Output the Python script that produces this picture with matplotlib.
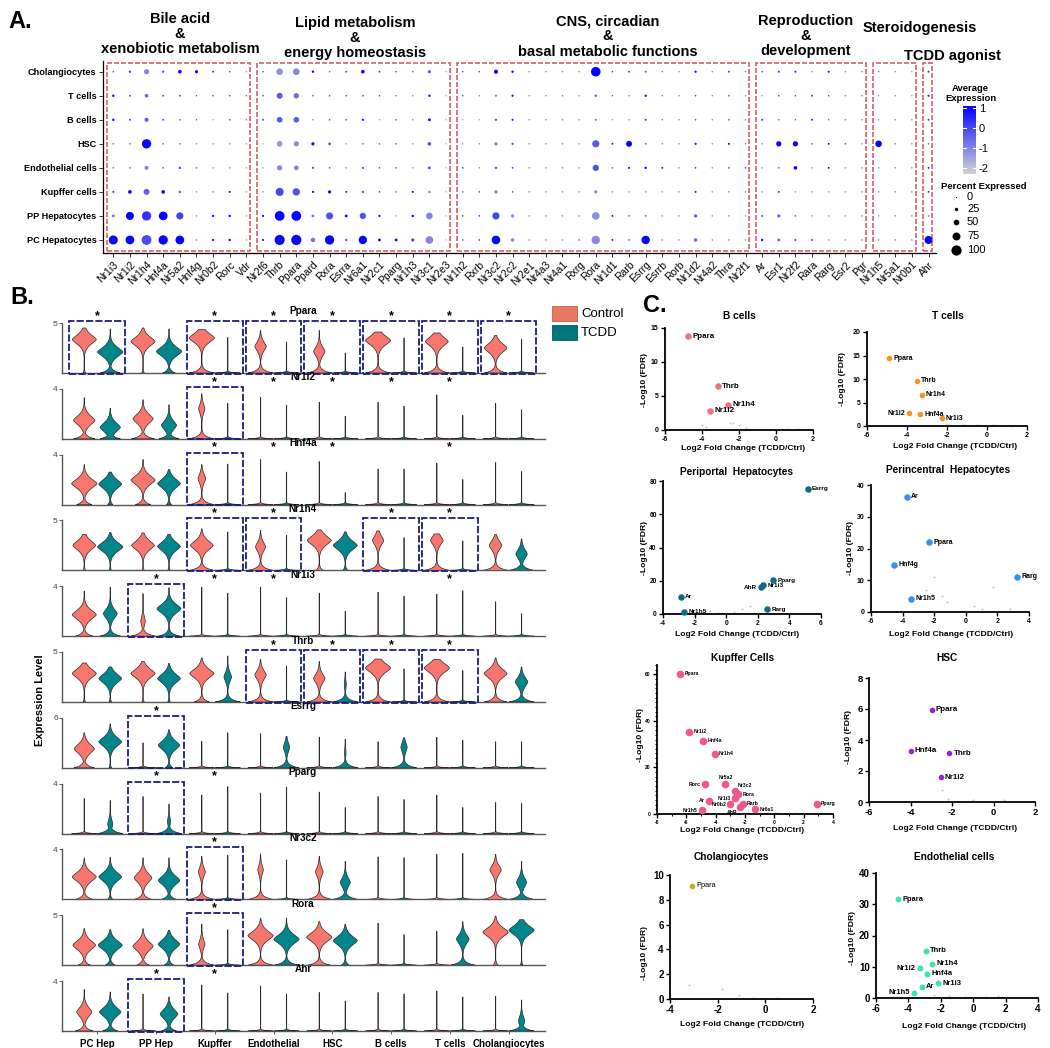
import numpy as np
import matplotlib
matplotlib.use('Agg')
import matplotlib.pyplot as plt
from matplotlib.patches import Rectangle
from matplotlib.colors import LinearSegmentedColormap
from matplotlib.ticker import MultipleLocator

plt.rcParams['font.family'] = ['Liberation Sans', 'DejaVu Sans']
plt.rcParams['axes.unicode_minus'] = False

# ---------------- Panel A data ----------------
A_GENES = ['Nr1i3', 'Nr1i2', 'Nr1h4', 'Hnf4a', 'Nr5a2', 'Hnf4g', 'Nr0b2', 'Rorc', 'Vdr',
           'Nr2f6', 'Thrb', 'Ppara', 'Ppard', 'Rxra', 'Esrra', 'Nr6a1', 'Nr2c1', 'Pparg', 'Nr1h3', 'Nr3c1', 'Nr2e3',
           'Nr1h2', 'Rxrb', 'Nr3c2', 'Nr2c2', 'Nr2e1', 'Nr4a3', 'Nr4a1', 'Rxrg', 'Rora', 'Nr1d1', 'Rarb', 'Esrrg',
           'Esrrb', 'Rorb', 'Nr1d2', 'Nr4a2', 'Thra', 'Nr2f1',
           'Ar', 'Esr1', 'Nr2f2', 'Rara', 'Rarg', 'Esr2', 'Pgr',
           'Nr1h5', 'Nr5a1', 'Nr0b1', 'Ahr']
A_CELLS = ['PC Hepatocytes', 'PP Hepatocytes', 'Kupffer cells', 'Endothelial cells',
           'HSC', 'B cells', 'T cells', 'Cholangiocytes']
A_GROUP_TITLES = ['Bile acid\n&\nxenobiotic metabolism', 'Lipid metabolism\n&\nenergy homeostasis',
                  'CNS, circadian\n&\nbasal metabolic functions', 'Reproduction\n&\ndevelopment',
                  'Steroidogenesis', 'TCDD agonist']
A_GROUP_FIRST = [0, 9, 21, 39, 46, 49]
A_GROUP_LAST = [8, 20, 38, 45, 48, 49]

PCT_CHOL = [4,13,45,11,27,22,7,4,2, 4,60,60,13,4,7,27,7,4,4,22,2, 4,4,32,13,2,2,2,2,93,4,7,7,2,2,11,2,7,2, 4,9,9,2,9,2,2, 2,2,2, 9]
EXP_CHOL = [0,0,-1,0,1,1,0.5,0,-1, 0,-1.2,-1,1,-0.5,0,1,0.3,0,-0.5,-0.3,-1.5, 0,0,1,1,-0.5,-0.5,-0.5,-0.5,1,0,0.3,0,-0.5,-0.5,1,-0.5,0.5,-0.5, 0,0.3,0.3,-0.5,1,-0.5,-0.5, -0.5,-0.5,-1, 0.3]
PCT_T = [13,7,27,7,7,2,4,4,2, 4,53,45,4,4,4,7,4,2,2,13,2, 4,2,9,11,2,2,2,2,13,2,2,12,2,2,4,2,4,2, 2,4,4,7,4,2,2, 2,2,2, 9]
EXP_T = [1,0,-0.5,0,0,0,0,0,-0.5, 0.3,-0.3,-0.6,0,0,0,-0.3,0,0,-0.5,1,-1.5, 0,-0.5,-0.8,1,-0.5,-0.5,-0.3,-0.5,-0.3,0,-0.3,1,-0.5,-0.5,0,-0.5,0,-0.5, -1,0.3,0,0.5,0,-0.5,-0.5, -0.5,-0.5,-1, 1]
PCT_B = [13,7,32,7,4,2,1,4,2, 7,50,50,2,4,4,11,1,4,2,18,2, 1,1,11,9,2,2,2,2,9,1,2,7,2,2,4,2,4,2, 7,2,2,7,2,2,2, 2,2,2, 7]
EXP_B = [1,0.3,-0.4,0,0,0,-1,0,-0.5, 0.3,-0.3,-0.4,-0.5,0,0,1,-1,0,-0.5,1,-1.5, -1,-1,-0.2,1,-0.5,-0.5,-0.5,-0.5,-0.6,-1,-0.5,0.5,-0.5,-0.5,0,-0.5,0,-0.5, 0.5,0,0,1,0,-0.5,-0.5, -0.5,-0.5,-0.5, 0.5]
PCT_HSC = [4,4,90,4,4,2,2,2,2, 2,50,45,22,18,2,7,4,4,2,27,2, 2,2,22,11,2,2,2,2,66,7,53,4,2,2,11,2,9,2, 2,45,45,4,7,4,2, 60,2,2, 4]
EXP_HSC = [-0.5,-0.5,1,-0.3,-0.5,-0.5,-0.5,-0.5,-1, -1.5,-1.3,-1.1,1,-0.3,-1,-1,-0.3,-0.3,-0.5,-0.2,-1.5, -0.5,-0.5,-0.8,-0.1,-0.5,-0.5,-0.5,-0.5,-0.3,1,1,0,-0.5,-0.5,1,-0.5,1,0, -0.5,1,1,0,1,0,-0.5, 1,-0.5,-0.5, 0]
PCT_ENDO = [4,4,32,4,13,4,2,2,2, 2,45,40,9,4,2,11,4,4,2,18,2, 4,2,13,7,2,2,2,2,56,4,9,13,7,2,4,2,4,4, 2,4,27,2,7,2,2, 2,2,2, 7]
EXP_ENDO = [-0.3,-0.3,-1,0,-0.1,-0.3,-0.5,-0.5,-1, -1,-1.1,-1,0.5,0,-0.5,0,0,0,-0.5,-0.2,-1.5, 0,-0.5,-0.2,0,-0.5,-0.5,-0.5,-0.5,-0.2,0,1,1,1,-0.5,0.3,-0.5,0.3,0.3, -0.5,0,1,-0.5,1,-0.5,-0.5, -0.5,-0.5,-0.5, 1]
PCT_KUP = [9,27,53,27,13,2,4,9,2, 2,76,68,11,22,7,13,4,4,9,13,2, 4,4,22,4,2,2,2,2,22,2,2,2,2,2,7,2,2,2, 2,7,2,2,2,2,2, 2,2,2, 7]
EXP_KUP = [0.5,1,-0.5,1,-0.2,-0.5,-0.5,1,-1, -0.8,0,-0.2,1,1,1,-0.2,0.5,-0.3,1,-1,-1.5, 0,0.3,-0.8,0,-0.5,-0.5,-0.5,-0.5,-1,-0.5,-0.5,-0.5,-0.5,-0.5,1,-0.5,-0.5,-0.5, -0.5,0.5,-0.5,-0.5,-0.5,-0.5,-0.5, -0.5,-0.5,-0.5, 0.5]
PCT_PP = [18,76,90,84,66,2,11,13,2, 11,95,96,18,66,18,56,11,4,13,60,2, 4,4,66,22,2,2,2,2,72,7,4,4,2,2,22,2,2,2, 7,22,4,2,2,2,2, 2,2,2, 7]
EXP_PP = [-0.8,1,0.3,1,0,-0.5,1,1,-1, 1,1,1,-0.8,-0.2,1,-0.2,1,-1.5,1,-1,-1.5, 0.3,0.5,0,-1,-0.5,-0.5,-0.5,0,-1.2,1,0,0,-0.5,-0.5,-0.3,-0.5,-0.5,-1, 0,-0.5,0,-0.5,-0.5,-0.5,-0.5, -0.5,-0.5,-0.5, -1]
PCT_PC = [87,84,96,90,84,2,11,13,2, 9,99,100,36,90,13,80,18,18,22,72,2, 4,4,82,25,2,2,2,4,80,7,4,80,2,2,25,2,2,2, 13,18,11,9,2,2,2, 2,2,2, 76]
EXP_PC = [1,1,-0.1,1,1,-0.5,1,1,-1, 1,1,1,-0.7,1,-0.3,1,1,1,0,-1,-1.5, 0.3,0.5,1,-1,-0.5,-0.5,-0.5,0,-1.1,1,0,1,-0.5,-0.5,-0.5,-0.5,-0.5,-0.5, 1,-0.5,-0.3,-0.2,-0.5,-0.5,-0.5, -0.5,-0.5,-0.5, 1]

A_PCT = [PCT_PC, PCT_PP, PCT_KUP, PCT_ENDO, PCT_HSC, PCT_B, PCT_T, PCT_CHOL]
A_EXP = [EXP_PC, EXP_PP, EXP_KUP, EXP_ENDO, EXP_HSC, EXP_B, EXP_T, EXP_CHOL]
CB_TICKS = [1, 0, -1, -2]
PCT_LEGEND = [0, 25, 50, 75, 100]

# ---------------- Panel B data ----------------
B_GENES = ['Ppara', 'Nr1i2', 'Hnf4a', 'Nr1h4', 'Nr1i3', 'Thrb', 'Esrrg', 'Pparg', 'Nr3c2', 'Rora', 'Ahr']
B_YMAX = [5, 4, 4, 5, 4, 5, 6, 4, 4, 5, 4]
B_CELLS = ['PC Hep', 'PP Hep', 'Kupffer', 'Endothelial', 'HSC', 'B cells', 'T cells', 'Cholangiocytes']
# each violin: (mode height, mode width, top, foot width); width 0 -> collapsed violin (line)
VLN_PPARA = [(0.67,0.95,0.90,0.10),(0.42,1.00,0.88,0.80),(0.63,0.95,0.90,0.10),(0.43,1.00,0.88,0.50),
             (0.70,1.00,0.87,1.00),(0,0,0.71,1),(0.53,0.45,0.85,1.00),(0,0,0.62,1),
             (0.43,0.45,0.85,1.00),(0,0,0.40,1),(0.65,1.00,0.82,1.00),(0,0,0.70,1),
             (0.63,0.90,0.80,1.00),(0,0,0.52,1),(0.50,0.90,0.75,0.90),(0,0,0.67,1)]
VLN_NR1I2 = [(0.37,0.85,0.82,0.85),(0.23,0.80,0.61,0.80),(0.40,0.80,0.78,0.90),(0.27,0.60,0.68,0.80),
             (0.60,0.25,0.90,1.00),(0,0,0.71,1),(0,0,0.83,1),(0,0,0.67,1),
             (0,0,0.73,1),(0,0,0.45,1),(0,0,0.73,1),(0,0,0.65,1),
             (0,0,0.88,1),(0,0,0.47,1),(0,0,0.71,1),(0,0,0.58,1)]
VLN_HNF4A = [(0.42,1.00,0.80,0.60),(0.41,0.90,0.65,0.20),(0.49,0.95,0.90,0.60),(0.42,0.90,0.70,0.20),
             (0.52,0.30,0.80,1.00),(0,0,0.81,1),(0,0,0.90,1),(0,0,0.65,1),
             (0,0,0.86,1),(0,0,0.24,1),(0,0,0.71,1),(0,0,0.71,1),
             (0,0,0.83,1),(0,0,0.50,1),(0,0,0.84,1),(0,0,0.66,1)]
VLN_NR1H4 = [(0.50,0.90,0.72,0.10),(0.47,1.00,0.76,0.10),(0.50,0.90,0.75,0.10),(0.48,0.90,0.72,0.10),
             (0.50,0.90,0.83,1.00),(0,0,0.77,1),(0.47,0.40,0.80,1.00),(0,0,0.70,1),
             (0.60,0.95,0.81,0.30),(0.50,0.95,0.77,0.20),(0.60,0.45,0.79,1.00),(0,0,0.65,1),
             (0.60,0.50,0.73,1.00),(0,0,0.59,1),(0.50,0.50,0.72,1.00),(0.33,0.45,0.63,1.00)]
VLN_NR1I3 = [(0.43,0.95,0.90,0.70),(0.45,0.55,0.98,0.85),(0.30,0.18,0.85,1.00),(0.55,0.95,0.97,0.85),
             (0,0,0.98,1),(0,0,0.86,1),(0,0,0.98,1),(0,0,0.77,1),
             (0,0,0.86,1),(0,0,0.50,1),(0,0,0.88,1),(0,0,0.80,1),
             (0,0,0.84,1),(0,0,0.91,1),(0,0,0.69,1),(0,0,0.45,1)]
VLN_THRB = [(0.57,0.95,0.78,0.10),(0.47,0.90,0.70,0.10),(0.57,0.95,0.81,0.10),(0.47,0.90,0.77,0.10),
            (0.57,0.95,0.88,0.60),(0.50,0.30,0.92,1.00),(0.54,0.45,0.85,1.00),(0,0,0.72,1),
            (0.47,0.45,0.81,1.00),(0.35,0.08,0.60,1.00),(0.68,1.00,0.86,1.00),(0,0,0.66,1),
            (0.68,1.00,0.85,1.00),(0,0,0.63,1),(0.57,0.90,0.88,0.90),(0.40,0.50,0.70,1.00)]
VLN_ESRRG = [(0.38,0.80,0.70,0.80),(0.52,0.90,0.88,0.10),(0,0,0.50,1),(0.45,0.85,0.76,0.30),
             (0,0,0.53,1),(0,0,0.70,1),(0,0,0.68,1),(0.41,0.25,0.63,1.00),
             (0,0,0.61,1),(0.30,0.06,0.57,1.00),(0,0,0.52,1),(0.41,0.25,0.60,1.00),
             (0,0,0.61,1),(0,0,0.55,1),(0,0,0.52,1),(0,0,0.52,1)]
VLN_PPARG = [(0,0,0.70,1),(0.19,0.20,0.66,1.00),(0,0,0.74,1),(0.24,0.12,0.59,1.00),
             (0,0,0.77,1),(0,0,0.94,1),(0,0,0.81,1),(0,0,0.93,1),
             (0,0,0.83,1),(0,0,0.52,1),(0,0,0.74,1),(0,0,0.68,1),
             (0,0,0.77,1),(0,0,0.52,1),(0,0,0.62,1),(0,0,0.60,1)]
VLN_NR3C2 = [(0.45,0.95,0.83,0.70),(0.45,0.90,0.84,0.20),(0.43,0.70,0.83,0.70),(0.38,0.85,0.83,0.60),
             (0.55,0.28,0.86,1.00),(0,0,0.88,1),(0.59,0.22,0.91,1.00),(0,0,0.79,1),
             (0.55,0.30,0.86,1.00),(0.34,0.40,0.76,1.00),(0,0,0.85,1),(0,0,0.83,1),
             (0,0,0.90,1),(0,0,0.92,1),(0.59,0.45,0.90,1.00),(0.34,0.40,0.76,1.00)]
VLN_RORA = [(0.40,0.90,0.73,0.50),(0.40,0.95,0.71,0.40),(0.38,0.80,0.73,0.50),(0.42,0.85,0.70,0.40),
            (0.42,0.25,0.82,1.00),(0,0,0.71,1),(0.59,1.00,0.94,1.00),(0.52,1.00,0.94,1.00),
            (0.56,1.00,0.87,0.90),(0.49,0.95,0.82,0.30),(0,0,0.84,1),(0,0,0.61,1),
            (0,0,0.68,1),(0.52,0.50,0.87,1.00),(0.66,1.00,0.98,0.20),(0.70,1.00,0.91,0.10)]
VLN_AHR = [(0.38,0.60,0.83,0.70),(0.38,0.85,0.78,0.60),(0,0,0.74,1),(0.34,0.70,0.68,0.60),
           (0,0,0.92,1),(0,0,0.76,1),(0,0,0.90,1),(0,0,0.74,1),
           (0,0,0.77,1),(0,0,0.60,1),(0,0,0.77,1),(0,0,0.74,1),
           (0,0,0.80,1),(0,0,0.68,1),(0,0,0.69,1),(0.20,0.25,0.62,1.00)]
B_VIOLINS = [VLN_PPARA, VLN_NR1I2, VLN_HNF4A, VLN_NR1H4, VLN_NR1I3, VLN_THRB,
             VLN_ESRRG, VLN_PPARG, VLN_NR3C2, VLN_RORA, VLN_AHR]
B_BOXES = [[0,2,3,4,5,6,7],[2],[2],[2,3,5,6],[1],[3,4,5,6],[1],[1],[2],[2],[1]]
B_STARS = [[0,2,3,4,5,6,7],[2,3,4,5,6],[2,3,4,6],[2,3,5,6],[1,2,3,6],[3,4,5,6],[1],[1,2],[2],[2],[1,2]]

# ---------------- Panel C data ----------------
BC_GENES = ['Ppara', 'Thrb', 'Nr1h4', 'Nr1i2']
BC_X = [-4.76, -3.14, -2.6, -3.57]
BC_Y = [13.8, 6.4, 3.7, 2.85]
BC_NSX = [-4.0, -3.8, -2.5, -2.3, -2.0, -1.6, 0.6, 1.2]
BC_NSY = [0.7, 0.4, 1.1, 1.0, 0.8, 0.3, 0.2, 0.1]
TC_GENES = ['Ppara', 'Thrb', 'Nr1h4', 'Nr1i2', 'Hnf4a', 'Nr1i3']
TC_X = [-4.9, -3.5, -3.27, -3.9, -3.35, -2.27]
TC_Y = [14.4, 9.6, 6.7, 2.7, 2.55, 1.7]
TC_NSX = [-2.0, -1.2, -0.5, 0.3, 1.2]
TC_NSY = [0.4, 0.2, 0.3, 0.2, 0.1]
PP_GENES = ['Esrrg', 'Pparg', 'Nr1i3', 'AhR', 'Ar', 'Nr1h5', 'Rarg']
PP_X = [5.16, 2.98, 2.35, 2.2, -2.86, -2.65, 2.6]
PP_Y = [75.4, 20.4, 17.4, 16.0, 10.4, 1.4, 2.8]
PP_NSX = [-2.0, -1.5, -1.0, -0.5, 0.5, 1.0, 1.5]
PP_NSY = [0.8, 1.0, 2.0, 0.5, 1.5, 3.0, 5.0]
PC_GENES = ['Ar', 'Ppara', 'Hnf4g', 'Nr1h5', 'Rarg']
PC_X = [-3.73, -2.31, -4.52, -3.47, 3.26]
PC_Y = [36.3, 21.9, 14.95, 4.2, 11.05]
PC_NSX = [-2.5, -2.0, -1.5, -1.2, 0.5, 1.0, 1.7, 2.8]
PC_NSY = [7.0, 11.0, 5.0, 3.0, 2.0, 1.0, 8.0, 1.0]
KC_GENES = ['Ppara', 'Nr1i2', 'Hnf4a', 'Nr1h4', 'Rorc', 'Nr5a2', 'Nr3c2', 'Rora', 'Nr1i3', 'Ar',
            'Nr0b2', 'Rarb', 'AhR', 'Nr1h5', 'Nr6a1', 'Pparg']
KC_X = [-6.41, -5.82, -4.86, -4.07, -4.75, -3.34, -2.71, -2.48, -2.66, -4.48, -3.0, -2.14, -2.32, -4.93, -1.3, 2.9]
KC_Y = [60.2, 35.4, 31.4, 25.8, 12.8, 12.8, 9.9, 8.5, 6.8, 5.7, 4.2, 4.4, 3.1, 1.7, 2.0, 4.3]
KC_NSX = [-1.8, -1.0, -0.5, 0.2, 0.8, 1.5]
KC_NSY = [1.0, 0.5, 0.3, 0.4, 0.2, 0.3]
HS_GENES = ['Ppara', 'Hnf4a', 'Thrb', 'Nr1i2']
HS_X = [-2.98, -3.99, -2.13, -2.54]
HS_Y = [5.94, 3.3, 3.14, 1.59]
HS_NSX = [-2.5, -2.2, -1.0, 0.5]
HS_NSY = [0.8, 0.2, 0.1, 0.1]
CH_GENES = ['Ppara']
CH_X = [-3.06]
CH_Y = [9.14]
CH_NSX = [-3.2, -1.8, -1.1, -0.5, 0.5]
CH_NSY = [1.1, 0.8, 0.3, 0.1, 0.1]
EN_GENES = ['Ppara', 'Thrb', 'Nr1h4', 'Nr1i2', 'Hnf4a', 'Nr1i3', 'Ar', 'Nr1h5']
EN_X = [-4.62, -2.93, -2.54, -3.28, -2.83, -2.15, -3.18, -3.63]
EN_Y = [31.6, 15.04, 10.9, 9.6, 7.8, 4.7, 3.6, 1.7]
EN_NSX = [-2.4, -1.5, -0.5, 0.8, 1.5]
EN_NSY = [0.9, 0.5, 0.3, 0.4, 0.8]

# ---------------- figure helpers ----------------
W, H = 1050, 1048
fig = plt.figure(figsize=(10.5, 10.48), dpi=100)


def pax(l, t, r, b, **kw):
    return fig.add_axes([l / W, 1 - b / H, (r - l) / W, (b - t) / H], **kw)


def ftx(x, y, s, **kw):
    return fig.text(x / W, 1 - y / H, s, **kw)


def dot_s(p):
    d = (1.2 + 9.0 * np.asarray(p, dtype=float) / 100.0) * 0.72
    return d ** 2


# ---------------- Panel A ----------------
cmap = LinearSegmentedColormap.from_list('gb', ['#D3D3D3', '#0000FF'])
VMIN, VMAX = -2.28, 1.1
axA = pax(103.3, 60.9, 936.0, 252.7)
axA.set_xlim(-0.6, 49.45)
axA.set_ylim(-0.53, 7.45)
for ri in range(len(A_CELLS)):
    axA.scatter(np.arange(len(A_GENES)), np.full(len(A_GENES), ri), s=dot_s(A_PCT[ri]),
                c=A_EXP[ri], cmap=cmap, vmin=VMIN, vmax=VMAX, linewidths=0, zorder=3)
for f, l in zip(A_GROUP_FIRST, A_GROUP_LAST):
    axA.add_patch(Rectangle((f - 0.36, -0.445), (l + 0.23) - (f - 0.36), 7.35 + 0.445,
                            fill=False, ec='#D9606A', lw=1.2, ls=(0, (3, 1.2)), zorder=2))
axA.set_xticks(np.arange(len(A_GENES)))
axA.set_xticklabels(A_GENES, rotation=45, ha='right', rotation_mode='anchor', fontsize=7.5)
axA.set_yticks(np.arange(len(A_CELLS)))
axA.set_yticklabels(A_CELLS, fontsize=6.6, fontweight='bold')
axA.tick_params(length=3, width=0.7, pad=2, color='#333333')
for s in ['top', 'right']:
    axA.spines[s].set_visible(False)
for s in ['left', 'bottom']:
    axA.spines[s].set_linewidth(0.9)

group_pos = [(180, 34), (355, 38), (608, 36.5), (806, 36), (920, 28.3), (952, 55.7)]
for title, (gx, gy) in zip(A_GROUP_TITLES, group_pos):
    ftx(gx, gy, title, ha='center', va='center', fontsize=10.5, fontweight='bold', linespacing=1.1)

ftx(8, 22, 'A.', fontsize=17, fontweight='bold', va='center', ha='left')

# colorbar
cax = pax(963, 106, 976, 174)
grad = np.linspace(VMAX, VMIN, 256)[:, None]
cax.imshow(grad, aspect='auto', cmap=cmap, vmin=VMIN, vmax=VMAX, extent=[0, 1, VMIN, VMAX])
cax.set_xlim(0, 1)
cax.set_ylim(VMIN, VMAX)
cax.set_xticks([])
cax.yaxis.tick_right()
cax.set_yticks(CB_TICKS)
cax.set_yticklabels([str(t) for t in CB_TICKS], fontsize=8)
cax.tick_params(length=0, pad=2)
for t in CB_TICKS:
    cax.plot([0, 0.2], [t, t], color='white', lw=0.8)
    cax.plot([0.8, 1], [t, t], color='white', lw=0.8)
for s in cax.spines.values():
    s.set_visible(False)
ftx(970.7, 93.4, 'Average\nExpression', ha='center', va='center', fontsize=6.8, fontweight='bold', linespacing=1.15)

# ---------------- overlay (legend items) ----------------
ov = fig.add_axes([0, 0, 1, 1])
ov.set_xlim(0, W)
ov.set_ylim(H, 0)
ov.axis('off')
ov.patch.set_alpha(0)
ftx(984, 186.7, 'Percent Expressed', ha='center', va='center', fontsize=6.8, fontweight='bold')
for p, yy in zip(PCT_LEGEND, [196.7, 209.3, 221.7, 235.7, 250.0]):
    ov.scatter([956], [yy], s=dot_s(p), c='black', linewidths=0)
    ftx(967, yy, str(p), ha='left', va='center', fontsize=8)

# ---------------- Panel B ----------------
CTRL_C = '#F8766D'
TCDD_C = '#00868B'
HWMAX = 0.215
OFF = 0.221
ftx(10, 298, 'B.', fontsize=17, fontweight='bold', va='center', ha='left')


def draw_violin(ax, c, m, w, t, z, color):
    y = np.linspace(0, t, 300)
    if w > 0:
        main = w * np.exp(-(np.abs(y - m) / 0.14) ** 1.5)
        foot = z * np.exp(-y / 0.05)
    else:
        main = np.zeros_like(y)
        foot = z * np.exp(-y / 0.012)
    hw = np.maximum(np.maximum(main, foot), 0.015) * HWMAX
    ax.fill(np.r_[c - hw, (c + hw)[::-1]], np.r_[y, y[::-1]], fc=color, ec='#2a2a2a', lw=0.5, zorder=3)


for gi, gene in enumerate(B_GENES):
    base = 373 + 65.8 * gi
    ax = pax(62, base - 50, 545, base)
    ax.set_xlim(-0.6, 7.62)
    ax.set_ylim(0, 1)
    vl = B_VIOLINS[gi]
    for ci in range(8):
        m, w, t, z = vl[2 * ci]
        draw_violin(ax, ci - OFF, m, w, t, z, CTRL_C)
        m, w, t, z = vl[2 * ci + 1]
        draw_violin(ax, ci + OFF, m, w, t, z, TCDD_C)
    for ci in B_BOXES[gi]:
        ax.add_patch(Rectangle((ci - 0.475, -0.01), 0.95, 1.05, fill=False, ec='#1E1E78',
                               lw=1.3, ls=(0, (4, 1.2)), zorder=4, clip_on=False))
    for ci in B_STARS[gi]:
        ax.text(ci, 1.02, '*', ha='center', va='bottom', fontsize=9, fontweight='bold', clip_on=False)
    ax.text(3.5, 1.13, gene, ha='center', va='bottom', fontsize=7.2, fontweight='bold')
    ax.set_yticks([1])
    ax.set_yticklabels([str(B_YMAX[gi])], fontsize=6, color='#444444')
    ax.tick_params(axis='y', length=2, width=0.6, pad=1, color='#444444')
    for s in ['top', 'right']:
        ax.spines[s].set_visible(False)
    for s in ['left', 'bottom']:
        ax.spines[s].set_linewidth(1.0)
        ax.spines[s].set_color('#555555')
    if gi == len(B_GENES) - 1:
        ax.set_xticks(range(8))
        ax.set_xticklabels(B_CELLS, fontsize=7, fontweight='bold')
        ax.tick_params(axis='x', length=2, width=0.6, pad=4, color='#444444')
    else:
        ax.set_xticks([])

ftx(40, 700, 'Expression Level', rotation=90, ha='center', va='center', fontsize=8, fontweight='bold')

ov.add_patch(Rectangle((552, 305.7), 25, 15, fc='#E8785F', ec='#C86048', lw=0.6))
ov.add_patch(Rectangle((552, 325.0), 25, 14.5, fc='#00777A', ec='#005A5C', lw=0.6))
ftx(581, 313.5, 'Control', ha='left', va='center', fontsize=9.5)
ftx(581, 332.5, 'TCDD', ha='left', va='center', fontsize=9.5)

# ---------------- Panel C ----------------
ftx(643, 305, 'C.', fontsize=17, fontweight='bold', va='center', ha='left')


def volcano(box, xlim, ylim, xticks, yticks, gx, gy, names, sides, nsx, nsy, color, ms, lfs, tfs,
            title, tpos, xlpos, ylpos, lweight='bold', minor=False):
    l, t, r, b = box
    ax = pax(l, t, r, b)
    ax.set_xlim(*xlim)
    ax.set_ylim(*ylim)
    for s in ['top', 'right']:
        ax.spines[s].set_visible(False)
    for s in ['left', 'bottom']:
        ax.spines[s].set_linewidth(1.3)
    ax.set_xticks(xticks)
    ax.set_yticks(yticks)
    ax.set_xticklabels([str(v) for v in xticks])
    ax.set_yticklabels([str(v) for v in yticks])
    ax.tick_params(direction='out', length=3, width=1.0, labelsize=tfs, pad=1.5)
    if minor:
        ax.yaxis.set_minor_locator(MultipleLocator(2))
        ax.xaxis.set_minor_locator(MultipleLocator(1))
        ax.tick_params(which='minor', direction='out', length=1.5, width=0.7)
    for lab in ax.get_xticklabels() + ax.get_yticklabels():
        lab.set_fontweight('bold')
    ax.scatter(nsx, nsy, s=2.5, c='#cccccc', linewidths=0, clip_on=False, zorder=2)
    ax.scatter(gx, gy, s=ms, c=color, linewidths=0, clip_on=False, zorder=3)
    offs = {'r': ((3, 0), 'left', 'center'), 'l': ((-3, 0), 'right', 'center'),
            'u': ((0, 3), 'center', 'bottom'), 'd': ((-2, -2), 'right', 'top'),
            'ur': ((2, 2), 'left', 'bottom')}
    for x, y, n, sd in zip(gx, gy, names, sides):
        (dx, dy), ha, va = offs[sd]
        ax.annotate(n, (x, y), xytext=(dx, dy), textcoords='offset points', ha=ha, va=va,
                    fontsize=lfs, fontweight=lweight, zorder=4, annotation_clip=False)
    ftx(tpos[0], tpos[1], title, ha='center', va='center', fontsize=7.3, fontweight='bold')
    ftx(xlpos[0], xlpos[1], 'Log2 Fold Change (TCDD/Ctrl)', ha='center', va='center', fontsize=6.1, fontweight='bold')
    ftx(ylpos[0], ylpos[1], '-Log10 (FDR)', ha='center', va='center', rotation=90, fontsize=6.1, fontweight='bold')
    return ax


volcano((665, 328, 813, 430), (-6, 2), (0, 15), [-6, -4, -2, 0, 2], [0, 5, 10, 15],
        BC_X, BC_Y, BC_GENES, ['r', 'r', 'r', 'r'], BC_NSX, BC_NSY, '#F2727E', 22, 5.8, 5,
        'B cells', (739, 316), (743, 448), (645, 380))
volcano((867, 332, 1027, 426), (-6, 2), (0, 20), [-6, -4, -2, 0, 2], [0, 5, 10, 15, 20],
        TC_X, TC_Y, TC_GENES, ['r', 'r', 'r', 'l', 'r', 'r'], TC_NSX, TC_NSY, '#F7931E', 16, 5.0, 5,
        'T cells', (948, 316), (955, 447), (843, 379))
volcano((663, 481, 821, 614), (-4, 6), (0, 80), [-4, -2, 0, 2, 4, 6], [0, 20, 40, 60, 80],
        PP_X, PP_Y, PP_GENES, ['r', 'r', 'r', 'l', 'r', 'r', 'r'], PP_NSX, PP_NSY, '#0E6E82', 22, 4.6, 4.8,
        'Periportal  Hepatocytes', (737, 472), (737, 634), (645, 548))
volcano((871, 485, 1029, 612), (-6, 4), (0, 40), [-6, -4, -2, 0, 2, 4], [0, 10, 20, 30, 40],
        PC_X, PC_Y, PC_GENES, ['r', 'r', 'r', 'r', 'r'], PC_NSX, PC_NSY, '#3A8FEF', 22, 5.0, 5,
        'Perincentral  Hepatocytes', (948, 470), (951, 634), (850, 548))
volcano((657, 665, 833, 814), (-8, 4), (0, 64), [-8, -6, -4, -2, 0, 2, 4], [0, 20, 40, 60],
        KC_X, KC_Y, KC_GENES, ['r', 'r', 'r', 'r', 'l', 'u', 'ur', 'r', 'l', 'l', 'l', 'r', 'd', 'l', 'r', 'r'],
        KC_NSX, KC_NSY, '#F2578A', 30, 3.7, 3.6,
        'Kupffer Cells', (743, 658), (742, 830), (640, 735), minor=True)
volcano((869, 678, 1035, 802), (-6, 2), (0, 8), [-6, -4, -2, 0, 2], [0, 2, 4, 6, 8],
        HS_X, HS_Y, HS_GENES, ['r', 'r', 'r', 'r'], HS_NSX, HS_NSY, '#9A1EE6', 16, 5.8, 6.8,
        'HSC', (947, 658), (955, 829), (849, 737))
volcano((670, 875, 813, 999), (-4, 2), (0, 10), [-4, -2, 0, 2], [0, 2, 4, 6, 8, 10],
        CH_X, CH_Y, CH_GENES, ['r'], CH_NSX, CH_NSY, '#B9B21E', 16, 5.3, 7,
        'Cholangiocytes', (731, 857), (742, 1025), (645, 953), lweight='normal')
volcano((876, 873, 1038, 998), (-6, 4), (0, 40), [-6, -4, -2, 0, 2, 4], [0, 10, 20, 30, 40],
        EN_X, EN_Y, EN_GENES, ['r', 'r', 'r', 'l', 'r', 'r', 'r', 'l'], EN_NSX, EN_NSY, '#3BE6A4', 18, 5.4, 7,
        'Endothelial cells', (954, 857), (964, 1027), (852, 938))

fig.savefig('out.png', dpi=100)
